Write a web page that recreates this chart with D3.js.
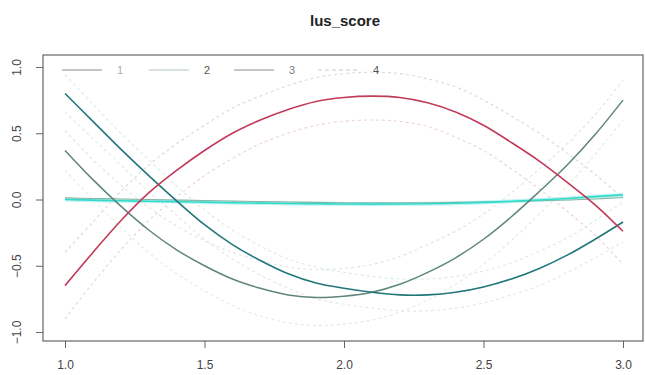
<!DOCTYPE html>
<html>
<head>
<meta charset="utf-8">
<script src="https://cdn.jsdelivr.net/npm/d3@7/dist/d3.min.js"></script>
<style>
  html, body { margin: 0; padding: 0; background: #fff; }
  svg { display: block; }
  text { font-family: "Liberation Sans", Arial, sans-serif; }
</style>
</head>
<body>
<svg id="chart" width="645" height="375"></svg>
<script>
// Evaluation grid for the smooth terms
const xs = [1.0, 1.1, 1.2, 1.3, 1.4, 1.5, 1.6, 1.7, 1.8, 1.9, 2.0,
            2.1, 2.2, 2.3, 2.4, 2.5, 2.6, 2.7, 2.8, 2.9, 3.0];

// Fitted curves
const fitRed   = [-0.65, -0.40, -0.16, 0.05, 0.22, 0.37, 0.50, 0.60, 0.68, 0.74, 0.77,
                   0.78, 0.77, 0.73, 0.66, 0.56, 0.43, 0.29, 0.13, -0.04, -0.24];
const fitTeal  = [0.80, 0.59, 0.38, 0.18, -0.01, -0.19, -0.34, -0.46, -0.56, -0.63, -0.67,
                  -0.70, -0.72, -0.72, -0.70, -0.66, -0.60, -0.52, -0.42, -0.30, -0.17];
const fitGrey  = [0.37, 0.15, -0.05, -0.23, -0.38, -0.50, -0.60, -0.67, -0.72, -0.74, -0.73,
                  -0.70, -0.64, -0.55, -0.44, -0.30, -0.13, 0.06, 0.26, 0.49, 0.75];
const fitCyan  = [0.00, -0.005, -0.01, -0.013, -0.016, -0.02, -0.024, -0.027, -0.03, -0.032, -0.034,
                  -0.035, -0.034, -0.032, -0.028, -0.022, -0.014, -0.004, 0.008, 0.022, 0.035];
const fitFlat  = [0.012, 0.008, 0.004, 0.0, -0.004, -0.008, -0.012, -0.016, -0.019, -0.022, -0.024,
                  -0.025, -0.025, -0.024, -0.022, -0.019, -0.015, -0.010, -0.004, 0.004, 0.015];

// Standard errors (bands drawn at fit +/- se)
const seRed  = [0.25, 0.23, 0.22, 0.21, 0.20, 0.19, 0.19, 0.18, 0.18, 0.18, 0.18,
                0.18, 0.18, 0.18, 0.19, 0.19, 0.20, 0.21, 0.22, 0.23, 0.25];
const seTeal = [0.14, 0.13, 0.12, 0.12, 0.11, 0.11, 0.11, 0.11, 0.11, 0.12, 0.12,
                0.12, 0.12, 0.12, 0.12, 0.12, 0.12, 0.13, 0.13, 0.14, 0.15];
const seGrey = [0.15, 0.15, 0.16, 0.17, 0.18, 0.19, 0.20, 0.21, 0.21, 0.21, 0.21,
                0.21, 0.21, 0.21, 0.20, 0.19, 0.18, 0.17, 0.16, 0.15, 0.15];

const xTicks = [1.0, 1.5, 2.0, 2.5, 3.0];
const yTicks = [-1.0, -0.5, 0.0, 0.5, 1.0];
const legendLabels = ["1", "2", "3", "4"];
const legendColors = ["#8e8a8b", "#b8c8c3", "#86928f", "#cccccc"];
const legendTextColors = ["#a8a8a8", "#555555", "#7a7a7a", "#555555"];

const titleText = "lus_score";

const svg = d3.select("#chart");
const box = { left: 43, right: 643, top: 55, bottom: 341 };

const x = d3.scaleLinear().domain([1.0, 3.0]).range([65, 623]);
const y = d3.scaleLinear().domain([-1.0, 1.0]).range([332, 67]);

// Title
svg.append("text")
  .attr("x", 345).attr("y", 26)
  .attr("text-anchor", "middle")
  .attr("font-size", 15).attr("font-weight", "bold")
  .attr("fill", "#222")
  .text(titleText);

const plot = svg.append("g");

const line = d3.line()
  .x(d => x(d[0]))
  .y(d => y(d[1]))
  .curve(d3.curveCatmullRom.alpha(0.5));

function pts(vals) { return xs.map((xv, i) => [xv, vals[i]]); }
function band(vals, se, sign) { return xs.map((xv, i) => [xv, vals[i] + sign * se[i]]); }

// Confidence bands (faint dashed)
const bands = [
  { fit: fitRed,  se: seRed,  up: "#dcd8d9", lo: "#ecd2d8" },
  { fit: fitTeal, se: seTeal, up: "#d6ece6", lo: "#dde9e6" },
  { fit: fitGrey, se: seGrey, up: "#dfe3e2", lo: "#e6e8e8" }
];
bands.forEach(b => {
  plot.append("path").datum(band(b.fit, b.se, 1))
    .attr("d", line).attr("fill", "none")
    .attr("stroke", b.up).attr("stroke-width", 1.1)
    .attr("stroke-dasharray", "3,3");
  plot.append("path").datum(band(b.fit, b.se, -1))
    .attr("d", line).attr("fill", "none")
    .attr("stroke", b.lo).attr("stroke-width", 1.1)
    .attr("stroke-dasharray", "3,3");
});

// Near-zero terms
plot.append("path").datum(pts(fitCyan))
  .attr("d", line).attr("fill", "none")
  .attr("stroke", "#c8f1f1").attr("stroke-width", 4);
plot.append("path").datum(pts(fitFlat))
  .attr("d", line).attr("fill", "none")
  .attr("stroke", "#86b3a4").attr("stroke-width", 1.1);
plot.append("path").datum(pts(fitCyan))
  .attr("d", line).attr("fill", "none")
  .attr("stroke", "#2fdccb").attr("stroke-width", 1.6);

// Main fitted curves
plot.append("path").datum(pts(fitGrey))
  .attr("d", line).attr("fill", "none")
  .attr("stroke", "#5e857c").attr("stroke-width", 1.5);
plot.append("path").datum(pts(fitTeal))
  .attr("d", line).attr("fill", "none")
  .attr("stroke", "#22767a").attr("stroke-width", 1.6);
plot.append("path").datum(pts(fitRed))
  .attr("d", line).attr("fill", "none")
  .attr("stroke", "#c23a58").attr("stroke-width", 1.6);

// Plot frame
svg.append("rect")
  .attr("x", box.left).attr("y", box.top)
  .attr("width", box.right - box.left).attr("height", box.bottom - box.top)
  .attr("fill", "none").attr("stroke", "#666").attr("stroke-width", 1.2);

// X axis
const xAxis = d3.axisBottom(x).tickValues(xTicks)
  .tickFormat(d3.format(".1f")).tickSize(7).tickPadding(12);
const gx = svg.append("g").attr("transform", `translate(0,${box.bottom})`).call(xAxis);
gx.select(".domain").remove();
gx.selectAll("line").attr("stroke", "#666");
gx.selectAll("text").attr("font-size", 12).attr("fill", "#444")
  .style("font-family", "Liberation Sans, Arial, sans-serif");

// Y axis (labels rotated, R style)
const yAxis = d3.axisLeft(y).tickValues(yTicks)
  .tickFormat(d3.format(".1f")).tickSize(7).tickPadding(0);
const gy = svg.append("g").attr("transform", `translate(${box.left},0)`).call(yAxis);
gy.select(".domain").remove();
gy.selectAll("line").attr("stroke", "#666");
gy.selectAll("text")
  .attr("x", null).attr("dy", null)
  .attr("text-anchor", "middle")
  .attr("transform", "translate(-22,0) rotate(-90)")
  .attr("y", 0)
  .attr("font-size", 12).attr("fill", "#444")
  .style("font-family", "Liberation Sans, Arial, sans-serif");

// Legend
const legendX = [62, 149, 234, 318];
const legend = svg.append("g");
legendLabels.forEach((lab, i) => {
  legend.append("line")
    .attr("x1", legendX[i]).attr("x2", legendX[i] + 40)
    .attr("y1", 70).attr("y2", 70)
    .attr("stroke", legendColors[i]).attr("stroke-width", 1.2)
    .attr("stroke-dasharray", i === 3 ? "4,3" : null);
  legend.append("text")
    .attr("x", legendX[i] + 58).attr("y", 74)
    .attr("text-anchor", "middle")
    .attr("font-size", 11).attr("fill", legendTextColors[i])
    .text(lab);
});
</script>
</body>
</html>
